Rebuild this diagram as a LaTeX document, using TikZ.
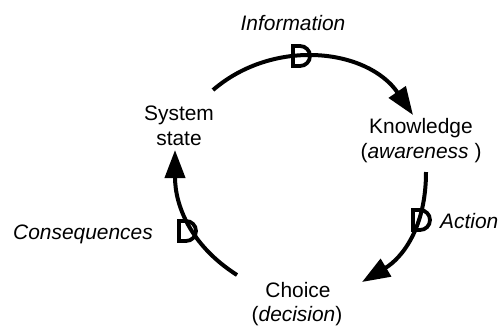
\documentclass[tikz,border=0pt]{standalone}
\usepackage{fontspec}
\setmainfont{Liberation Sans}
\usetikzlibrary{arrows.meta}
\begin{document}
\begin{tikzpicture}[x=1bp,y=-1bp,
  loop/.style={line width=4bp, -{Triangle[length=28bp,width=20bp]}},
  lbl/.style={font=\fontsize{21}{25}\selectfont, anchor=base, inner sep=0pt},
  delay/.pic={\draw[line width=3.8bp] (-7,-10) -- (-7,10) -- (0,10)
      arc[start angle=90,end angle=-90,radius=10] -- cycle;}]
\useasboundingbox (0,0) rectangle (502,326);

% state labels
\node[lbl] (sys)    at (179,120) {System};
\node[lbl] (sys2)   at (179,145) {state};
\node[lbl] (know)   at (421,133) {Knowledge};
\node[lbl] (know2)  at (421,158) {(\textit{awareness} )};
\node[lbl] (choice) at (298,297) {Choice};
\node[lbl] (choice2) at (297,321) {(\textit{decision})};

% flow labels
\node[lbl] (info) at (293,30) {\textit{Information}};
\node[lbl, anchor=base west] (act) at (440,228) {\textit{Action}};
\node[lbl, anchor=base west] (cons) at (13,239) {\textit{Consequences}};

% arc end points
\coordinate (i0) at (213,90);   \coordinate (i1) at (413,115);
\coordinate (a0) at (426,172);  \coordinate (a1) at (362,282);
\coordinate (c0) at (237,275);  \coordinate (c1) at (175,150);

% loop arcs
\draw[loop] (i0) .. controls (274,37.5) and (367.5,48.7) .. (i1);
\draw[loop] (a0) .. controls (426,228) and (402,258) .. (a1);
\draw[loop] (c0) .. controls (190,245) and (175,205) .. (c1);

% delay marks
\pic at (300,56) {delay};
\pic at (420,220) {delay};
\pic at (186,231) {delay};
\end{tikzpicture}
\end{document}
